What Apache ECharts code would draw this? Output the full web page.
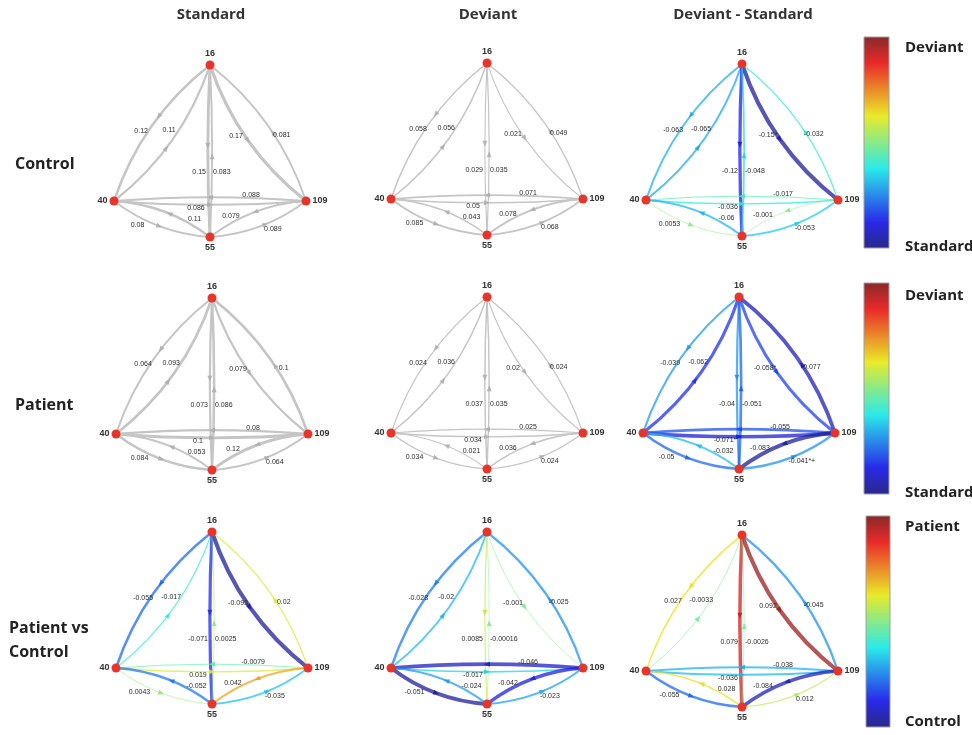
<!DOCTYPE html>
<html>
<head>
<meta charset="utf-8">
<script src="https://cdn.jsdelivr.net/npm/echarts@6/dist/echarts.min.js"></script>
<style>
  html, body { margin: 0; padding: 0; background: #ffffff; }
  #chart { width: 972px; height: 735px; }
</style>
</head>
<body>
<div id="chart"></div>
<script>
// ---- data ---------------------------------------------------------------
// Four sources and the twelve directed connections between them.
const regions = ['16', '40', '109', '55'];
const connections = [
  ['16', '40'], ['40', '16'], ['16', '109'], ['109', '16'],
  ['16', '55'], ['55', '16'], ['40', '109'], ['109', '40'],
  ['40', '55'], ['55', '40'], ['55', '109'], ['109', '55']
];

const columnTitles = ['Standard', 'Deviant', 'Deviant - Standard'];
const rowTitles = [['Control'], ['Patient'], ['Patient vs', 'Control']];
const scaleEnds = [['Deviant', 'Standard'], ['Deviant', 'Standard'], ['Patient', 'Control']];

// Connection strengths, in the order of `connections`.
const controlStandard = [0.12, 0.11, 0.17, 0.081, 0.15, 0.083, 0.086, 0.088, 0.08, 0.11, 0.089, 0.079];
const controlDeviant  = [0.058, 0.056, 0.021, 0.049, 0.029, 0.035, 0.05, 0.071, 0.085, 0.043, 0.068, 0.078];
const controlDiff     = [-0.063, -0.065, -0.15, -0.032, -0.12, -0.048, -0.036, -0.017, 0.0053, -0.06, -0.053, -0.001];
const controlDiffSig  = ['', '', '*', '', '', '', '', '', '', '', '', ''];

const patientStandard = [0.064, 0.093, 0.079, 0.1, 0.073, 0.086, 0.1, 0.08, 0.084, 0.053, 0.064, 0.12];
const patientDeviant  = [0.024, 0.036, 0.02, 0.024, 0.037, 0.035, 0.034, 0.025, 0.034, 0.021, 0.024, 0.036];
const patientDiff     = [-0.039, -0.062, -0.058, -0.077, -0.04, -0.051, -0.071, -0.055, -0.05, -0.032, -0.041, -0.083];
const patientDiffSig  = ['', '', '*', '', '', '', '*', '', '', '', '*+', ''];

const groupStandard = [-0.055, -0.017, -0.093, 0.02, -0.071, 0.0025, 0.019, -0.0079, 0.0043, -0.052, -0.035, 0.042];
const groupDeviant  = [-0.028, -0.02, -0.001, -0.025, 0.0085, -0.00016, -0.017, -0.046, -0.051, -0.024, -0.023, -0.042];
const groupDiff     = [0.027, -0.0033, 0.092, -0.045, 0.079, -0.0026, -0.036, -0.038, -0.055, 0.028, 0.012, -0.084];

// ---- layout -------------------------------------------------------------
const W = 972, H = 735;
// where source 16 sits in each panel (row-major), the others hang off it
const panelAnchor = [
  [210, 65], [487, 63], [742, 64],
  [212, 298], [487, 297], [739, 297],
  [212, 532], [487, 532], [742, 535]
];
const nodeOffset = { '16': [0, 0], '40': [-96, 136], '109': [96, 136], '55': [0, 172] };
const nodeLabelPos = { '16': 'top', '40': 'left', '109': 'right', '55': 'bottom' };
// bend of each connection (each one bows to the right of its direction)
const bend = [0.15, 0.15, 0.15, 0.15, 0.025, 0.025, 0.04, 0.04, 0.15, 0.15, 0.15, 0.15];
// position of the arrowhead along each connection
const arrowAt = [0.43, 0.44, 0.5, 0.45, 0.47, 0.47, 0.5, 0.5, 0.5, 0.45, 0.55, 0.5];
// value text: position along the connection, pixel shift, alignment
const textAt = [
  [0.55, -6, -2, 'center'], [0.575, -10, 0, 'center'], [0.46, -8, 1, 'center'], [0.43, 7, 0, 'center'],
  [0.62, -2, 0, 'right'], [0.38, 1, 0, 'left'], [0.427, 0, 3, 'center'], [0.286, 0, -3, 'center'],
  [0.3, -3, 7, 'center'], [0.2, 2, -6, 'center'], [0.65, -2, 9, 'center'], [0.75, -1, -7, 'center']
];

const GRAY_LINE = '#c5c5c5';
const GRAY_ARROW = '#acacac';
const NODE_RED = '#e8352b';

// ---- helpers ------------------------------------------------------------
function jet(t) {
  t = Math.max(0, Math.min(1, t));
  const f = x => Math.max(0, Math.min(1, x));
  return [f(1.5 - Math.abs(4 * t - 3)), f(1.5 - Math.abs(4 * t - 2)), f(1.5 - Math.abs(4 * t - 1))];
}
// colour string, optionally dimmed and washed toward white
function rgbStr(c, lighten, dim) {
  const k = lighten || 0, s = dim == null ? 1 : dim;
  const ch = v => Math.round(255 * (v * s * (1 - k) + k));
  return 'rgb(' + ch(c[0]) + ',' + ch(c[1]) + ',' + ch(c[2]) + ')';
}
function maxAbs(arrs) {
  let m = 0;
  arrs.forEach(a => a.forEach(v => { m = Math.max(m, Math.abs(v)); }));
  return m;
}
// same control point rule as the graph edge layout
function controlPoint(p1, p2, c) {
  return [(p1[0] + p2[0]) / 2 - (p1[1] - p2[1]) * c, (p1[1] + p2[1]) / 2 - (p2[0] - p1[0]) * c];
}
function curveAt(p1, cp, p2, t) {
  const a = (1 - t) * (1 - t), b = 2 * t * (1 - t), c = t * t;
  return [a * p1[0] + b * cp[0] + c * p2[0], a * p1[1] + b * cp[1] + c * p2[1]];
}
function curveDir(p1, cp, p2, t) {
  return [2 * (1 - t) * (cp[0] - p1[0]) + 2 * t * (p2[0] - cp[0]),
          2 * (1 - t) * (cp[1] - p1[1]) + 2 * t * (p2[1] - cp[1])];
}

function buildPanel(index, values, sig, mode, scaleMax) {
  const anchor = panelAnchor[index];
  const pos = {};
  regions.forEach(r => { pos[r] = [anchor[0] + nodeOffset[r][0], anchor[1] + nodeOffset[r][1]]; });
  const data = [];
  const links = [];
  connections.forEach((pair, i) => {
    const v = values[i];
    const rel = Math.abs(v) / scaleMax;
    let lineColor, arrowColor, width, opacity;
    if (mode === 'gray') {
      lineColor = GRAY_LINE; arrowColor = GRAY_ARROW;
      width = 0.7 + 2.5 * rel; opacity = 1;
    } else {
      const c = jet(0.5 + 0.5 * 0.95 * v / scaleMax);
      lineColor = rgbStr(c, 0.12, 0.92); arrowColor = rgbStr(c, 0.1, 0.9);
      width = 0.6 + 3.4 * rel; opacity = 0.75;
    }
    const curv = -bend[i];
    links.push({
      source: pair[0], target: pair[1],
      lineStyle: { color: lineColor, width: width, curveness: curv, opacity: opacity }
    });
    const p1 = pos[pair[0]], p2 = pos[pair[1]];
    const cp = controlPoint(p1, p2, curv);
    const ap = curveAt(p1, cp, p2, arrowAt[i]);
    const d = curveDir(p1, cp, p2, arrowAt[i]);
    const rot = Math.atan2(-d[1], d[0]) * 180 / Math.PI - 90;
    data.push({
      name: 'arrow' + i, value: ap, symbol: 'triangle', symbolSize: [5, 6], symbolRotate: rot,
      itemStyle: { color: arrowColor, opacity: 0.85 }, label: { show: false }
    });
    const ta = textAt[i];
    const tp = curveAt(p1, cp, p2, ta[0]);
    data.push({
      name: 'value' + i, value: tp, symbol: 'circle', symbolSize: 1,
      itemStyle: { color: 'rgba(0,0,0,0)' },
      label: {
        show: true, position: 'inside', formatter: String(v) + (sig ? sig[i] : ''),
        offset: [ta[1], ta[2]], align: ta[3], verticalAlign: 'middle',
        fontSize: 7, color: '#2b2b2b', fontFamily: 'Liberation Sans'
      }
    });
  });
  regions.forEach(r => {
    data.push({
      name: r, value: pos[r], symbol: 'circle', symbolSize: 9,
      itemStyle: { color: NODE_RED },
      label: {
        show: true, position: nodeLabelPos[r], distance: 2, formatter: r,
        fontSize: 9, fontWeight: 'bold', color: '#333', fontFamily: 'Liberation Sans'
      }
    });
  });
  return {
    type: 'graph', coordinateSystem: 'cartesian2d', xAxisIndex: 0, yAxisIndex: 0,
    layout: 'none', silent: true, animation: false, roam: false,
    edgeSymbol: ['none', 'none'], emphasis: { disabled: true },
    data: data, links: links
  };
}

// ---- panels ---------------------------------------------------------------
const controlMax = maxAbs([controlStandard, controlDeviant]);
const patientMax = maxAbs([patientStandard, patientDeviant]);
const series = [
  buildPanel(0, controlStandard, null, 'gray', controlMax),
  buildPanel(1, controlDeviant, null, 'gray', controlMax),
  buildPanel(2, controlDiff, controlDiffSig, 'jet', maxAbs([controlDiff])),
  buildPanel(3, patientStandard, null, 'gray', patientMax),
  buildPanel(4, patientDeviant, null, 'gray', patientMax),
  buildPanel(5, patientDiff, patientDiffSig, 'jet', maxAbs([patientDiff])),
  buildPanel(6, groupStandard, null, 'jet', maxAbs([groupStandard])),
  buildPanel(7, groupDeviant, null, 'jet', maxAbs([groupDeviant])),
  buildPanel(8, groupDiff, null, 'jet', maxAbs([groupDiff]))
];

// ---- headings and colour scales -------------------------------------------
const TITLE_FONT = 'bold 15px "Open Sans"';
const graphics = [];
const columnX = [211, 488, 743];
columnTitles.forEach((t, i) => {
  graphics.push({ type: 'text', silent: true, style: { x: columnX[i], y: 15, text: t, font: TITLE_FONT, fill: '#333', align: 'center', verticalAlign: 'middle' } });
});
const rowY = [[164], [405], [628, 652]];
const rowX = [15, 15, 9];
rowTitles.forEach((lines, i) => {
  lines.forEach((t, j) => {
    graphics.push({ type: 'text', silent: true, style: { x: rowX[i], y: rowY[i][j], text: t, font: 'bold 16px "Open Sans"', fill: '#222', align: 'left', verticalAlign: 'middle' } });
  });
});
const barBox = [[864, 37, 25, 211], [864, 283, 25, 211], [866, 516, 24, 211]];
const scaleTextY = [[48, 247], [296, 493], [527, 722]];
const stops = [];
for (let k = 0; k <= 16; k++) {
  stops.push({ offset: k / 16, color: rgbStr(jet(1 - k / 16), 0.16, 0.9) });
}
barBox.forEach((b, i) => {
  graphics.push({
    type: 'rect', silent: true,
    shape: { x: b[0], y: b[1], width: b[2], height: b[3] },
    style: {
      fill: { type: 'linear', x: 0, y: 0, x2: 0, y2: 1, colorStops: stops },
      stroke: '#a0a0a0', lineWidth: 1
    }
  });
  scaleEnds[i].forEach((t, j) => {
    graphics.push({ type: 'text', silent: true, style: { x: 905, y: scaleTextY[i][j], text: t, font: TITLE_FONT, fill: '#222', align: 'left', verticalAlign: 'middle' } });
  });
});

const chart = echarts.init(document.getElementById('chart'), null, { renderer: 'canvas' });
chart.setOption({
  animation: false,
  backgroundColor: '#ffffff',
  grid: { left: 0, right: 0, top: 0, bottom: 0 },
  xAxis: { type: 'value', min: 0, max: W, show: false },
  yAxis: { type: 'value', min: 0, max: H, inverse: true, show: false },
  graphic: graphics,
  series: series
});
</script>
</body>
</html>
